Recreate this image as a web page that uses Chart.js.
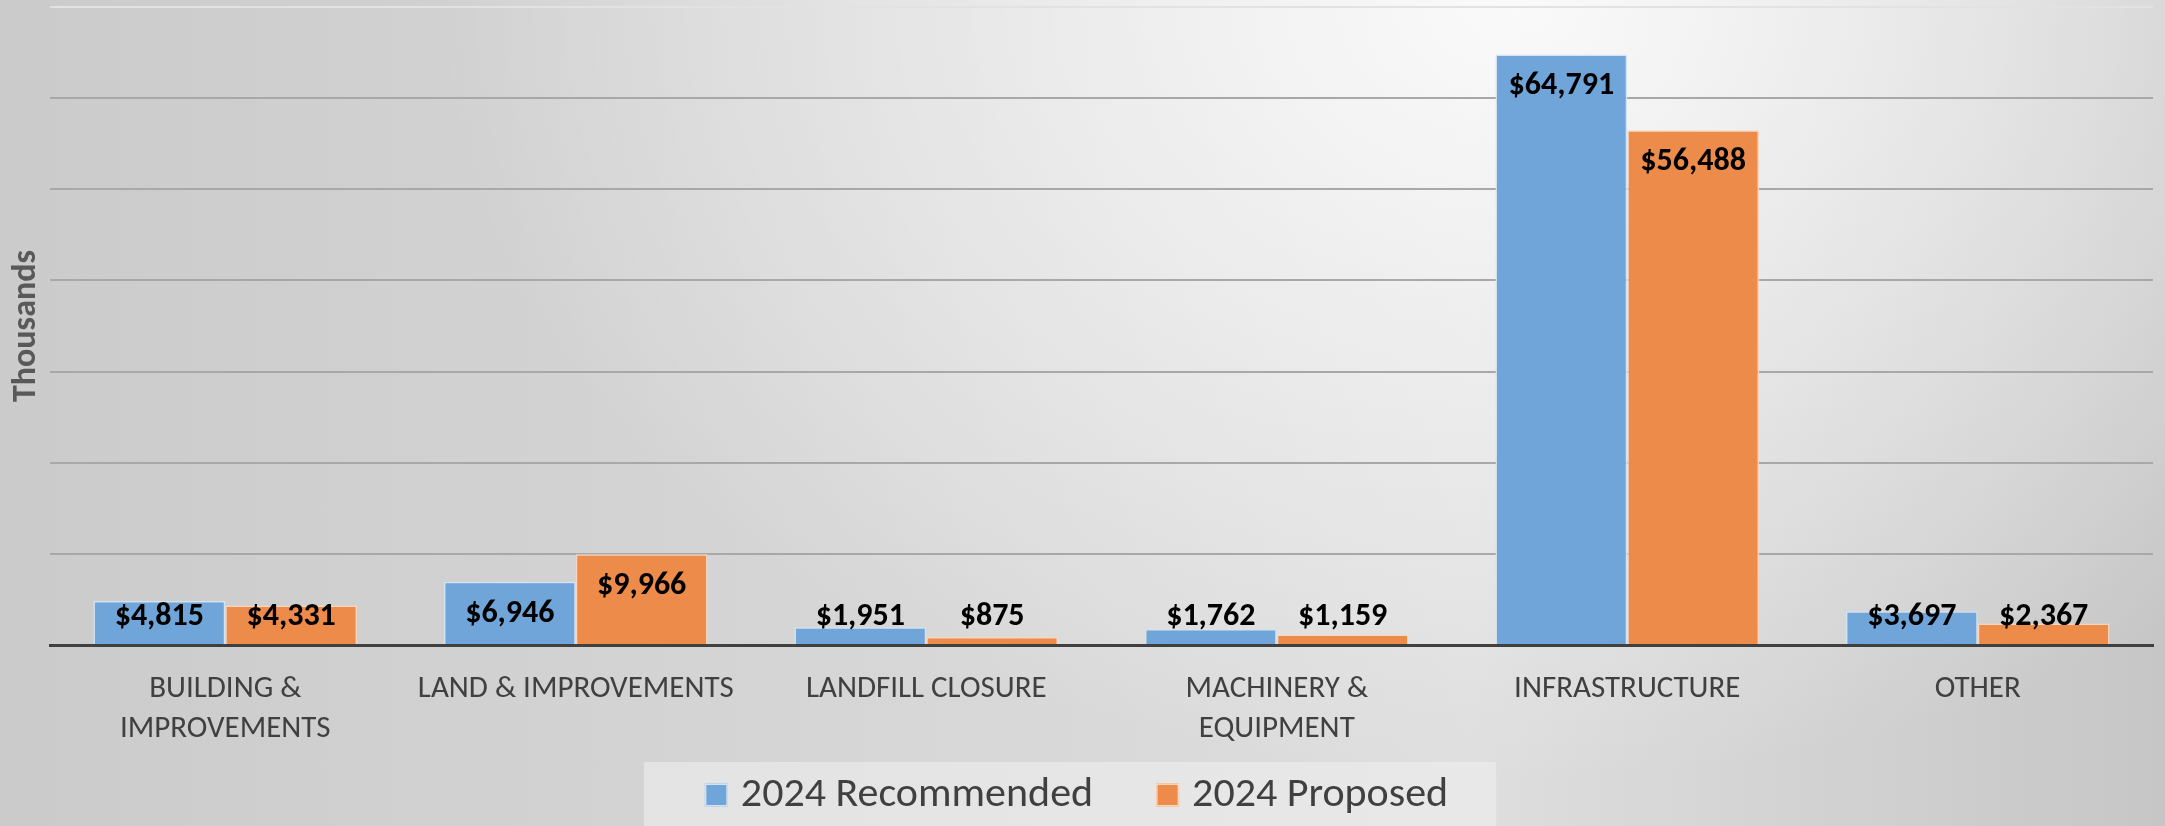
<!DOCTYPE html>
<html lang="en">
<head>
  <meta charset="UTF-8" />
  <title>2024 Capital Budget</title>
  <script src="https://cdn.jsdelivr.net/npm/chart.js"></script>
  <style>
    html, body {
      margin: 0;
      padding: 0;
      width: 2165px;
      height: 826px;
      overflow: hidden;
    }

    body {
      background:
        radial-gradient(ellipse 50% 95% at 70% 0%, rgba(255,255,255,0.85), rgba(255,255,255,0) 100%),
        linear-gradient(to right, #cbcbcb 0%, #dedede 68%, #c6c6c6 100%);
    }

    .wrap {
      position: relative;
      width: 2165px;
      height: 826px;
    }
  </style>
</head>
<body>
  <div class="wrap">
    <canvas id="capitalChart" width="2165" height="826"></canvas>
  </div>

  <script>
    const categories = [
      ['BUILDING &', 'IMPROVEMENTS'],
      'LAND & IMPROVEMENTS',
      'LANDFILL CLOSURE',
      ['MACHINERY &', 'EQUIPMENT'],
      'INFRASTRUCTURE',
      'OTHER'
    ];
    const recommended = [4815, 6946, 1951, 1762, 64791, 3697];
    const proposed = [4331, 9966, 875, 1159, 56488, 2367];
    const seriesNames = ['2024 Recommended', '2024 Proposed'];

    const FONT = "Carlito, 'Liberation Sans Narrow', Lato, sans-serif";

    const money = v => '$' + v.toLocaleString('en-US');

    // value labels: inside end of the bar, but never lower than just above the axis
    const barLabels = {
      id: 'barLabels',
      afterDatasetsDraw(chart) {
        const ctx = chart.ctx;
        const base = chart.scales.y.getPixelForValue(0);
        ctx.save();
        ctx.font = "bold 32px " + FONT;
        ctx.fillStyle = '#000000';
        ctx.textAlign = 'center';
        ctx.textBaseline = 'middle';
        chart.data.datasets.forEach((ds, i) => {
          chart.getDatasetMeta(i).data.forEach((bar, j) => {
            const y = Math.min(bar.y + 32, base - 28);
            ctx.fillText(money(ds.data[j]), bar.x, y);
          });
        });
        ctx.restore();
      }
    };

    // legend drawn in the bottom strip, on a lighter panel
    const bottomLegend = {
      id: 'bottomLegend',
      afterDraw(chart) {
        const ctx = chart.ctx;
        const sets = chart.data.datasets;
        const box = 23, gapText = 13, gapItem = 63;
        const cy = 795;
        ctx.save();
        ctx.font = "42px " + FONT;
        const widths = sets.map(ds => box + gapText + ctx.measureText(ds.label).width);
        const total = widths.reduce((a, b) => a + b, 0) + gapItem * (sets.length - 1);
        let x = chart.width / 2 - total / 2 - 6;

        ctx.fillStyle = 'rgba(240,240,240,0.55)';
        ctx.fillRect(x - 61, 762, total + 61 + 48, chart.height - 762);

        ctx.textAlign = 'left';
        ctx.textBaseline = 'middle';
        sets.forEach((ds, i) => {
          ctx.fillStyle = ds.backgroundColor;
          ctx.fillRect(x, cy - box / 2, box, box);
          ctx.strokeStyle = ds.borderColor;
          ctx.lineWidth = 1.5;
          ctx.strokeRect(x + 0.75, cy - box / 2 + 0.75, box - 1.5, box - 1.5);
          ctx.fillStyle = '#404040';
          ctx.fillText(ds.label, x + box + gapText, cy);
          x += widths[i] + gapItem;
        });
        ctx.restore();
      }
    };

    const ctx = document.getElementById('capitalChart').getContext('2d');

    new Chart(ctx, {
      type: 'bar',
      data: {
        labels: categories,
        datasets: [
          {
            label: seriesNames[0],
            data: recommended,
            backgroundColor: '#6fa5d8',
            borderColor: '#d3e3f3',
            borderWidth: 1.5,
            categoryPercentage: 0.752,
            barPercentage: 1.0
          },
          {
            label: seriesNames[1],
            data: proposed,
            backgroundColor: '#ec8b4a',
            borderColor: '#f8d6bf',
            borderWidth: 1.5,
            categoryPercentage: 0.752,
            barPercentage: 1.0
          }
        ]
      },
      options: {
        responsive: false,
        animation: false,
        layout: {
          padding: { left: 0, right: 12, top: 7, bottom: 71 }
        },
        plugins: {
          legend: { display: false },
          tooltip: { enabled: false }
        },
        scales: {
          x: {
            grid: { display: false, drawTicks: false },
            border: { display: true, color: '#404040', width: 3 },
            ticks: {
              color: '#404040',
              font: { family: FONT, size: 31, lineHeight: 1.29 },
              padding: 24,
              maxRotation: 0,
              autoSkip: false
            },
            afterFit: s => { s.height = 110; }
          },
          y: {
            min: 0,
            max: 70000,
            ticks: { display: false, stepSize: 10000 },
            border: { display: false },
            grid: {
              drawTicks: false,
              lineWidth: 2,
              color: c => c.tick.value === 0 ? 'rgba(0,0,0,0)' : (c.tick.value === 70000 ? '#e2e2e2' : '#a8a8a8')
            },
            title: {
              display: true,
              text: 'Thousands',
              color: '#595959',
              font: { family: FONT, size: 34, weight: 'bold', lineHeight: 1.2 },
              padding: { top: 6, bottom: 0 }
            },
            afterFit: s => { s.width = 50; }
          }
        }
      },
      plugins: [barLabels, bottomLegend]
    });
  </script>
</body>
</html>
